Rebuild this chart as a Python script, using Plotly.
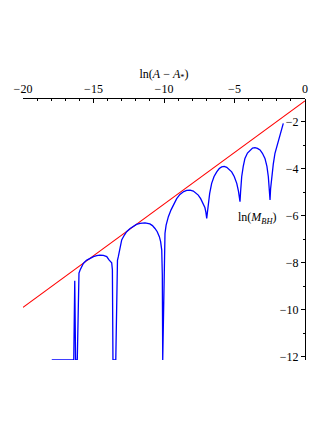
import plotly.graph_objects as go

# red reference line (end points)
line_x = [-20, 0]
line_y = [-9.90, -1.11]

# blue ln(M_BH) curve
mbh_x = [-17.96, -16.40, -16.33, -16.27, -16.15, -16.05, -16.03, -15.95, -15.72, -15.5,
         -15.25, -15.0, -14.77, -14.55, -14.30, -14.06, -13.90, -13.71, -13.66, -13.62,
         -13.42, -13.35, -13.30, -13.24, -13.12, -13.0, -12.82, -12.65, -12.4, -12.18,
         -11.95, -11.70, -11.35, -11.0, -10.82, -10.64, -10.48, -10.33, -10.24, -10.16,
         -10.12, -10.09, -9.99, -9.93, -9.85, -9.69, -9.5, -9.34, -9.1, -8.87,
         -8.6, -8.39, -8.15, -7.92, -7.75, -7.57, -7.4, -7.21, -7.1, -7.03,
         -6.97, -6.92, -6.86, -6.76, -6.62, -6.45, -6.26, -6.08, -5.91, -5.73,
         -5.55, -5.38, -5.20, -5.02, -4.84, -4.72, -4.65, -4.61, -4.57, -4.49,
         -4.38, -4.26, -4.08, -3.90, -3.72, -3.55, -3.37, -3.19, -3.02, -2.84,
         -2.70, -2.60, -2.53, -2.48, -2.44, -2.36, -2.25, -2.13, -1.95, -1.77,
         -1.65, -1.54]
mbh_y = [-12.14, -12.14, -8.77, -12.14, -12.14, -8.6, -8.44, -8.31, -8.03, -7.9,
         -7.81, -7.74, -7.70, -7.68, -7.69, -7.74, -7.88, -8.0, -8.3, -12.14,
         -12.14, -8.17, -7.9, -7.74, -7.35, -7.03, -6.83, -6.68, -6.54, -6.44,
         -6.37, -6.32, -6.30, -6.35, -6.42, -6.54, -6.68, -6.89, -7.1, -7.46,
         -8.5, -12.14, -8.17, -6.75, -6.4, -6.04, -5.75, -5.54, -5.27, -5.09,
         -4.97, -4.92, -4.91, -4.95, -5.02, -5.12, -5.27, -5.47, -5.65, -5.85,
         -6.11, -5.85, -5.47, -5.05, -4.62, -4.33, -4.13, -3.99, -3.92, -3.90,
         -3.94, -4.02, -4.13, -4.33, -4.62, -4.95, -5.2, -5.40, -5.0, -4.34,
         -3.9, -3.56, -3.33, -3.20, -3.12, -3.10, -3.13, -3.20, -3.34, -3.56,
         -3.9, -4.34, -4.85, -5.33, -4.85, -4.34, -3.8, -3.34, -2.92, -2.57,
         -2.3, -2.07]

x_ticks = [-20, -15, -10, -5, 0]
x_labels = ["\u221220", "\u221215", "\u221210", "\u22125", "0"]
y_ticks = [-12, -10, -8, -6, -4, -2]
y_labels = ["\u221212", "\u221210", "\u22128", "\u22126", "\u22124", "\u22122"]

FONT = "Liberation Serif"

fig = go.Figure()
fig.add_trace(go.Scatter(x=line_x, y=line_y, mode="lines",
                         line=dict(color="#ff0000", width=1.2), showlegend=False))
fig.add_trace(go.Scatter(x=mbh_x, y=mbh_y, mode="lines",
                         line=dict(color="#0000ff", width=1.3), showlegend=False))

fig.add_annotation(x=-3.40, y=-6.10, text="ln(<i>M</i><sub><i>BH</i></sub>)",
                   showarrow=False, font=dict(family=FONT, size=12, color="black"))

# page body adds an 8px offset, so margins are shifted to compensate
fig.update_layout(
    width=332, height=430,
    paper_bgcolor="white", plot_bgcolor="white",
    font=dict(family=FONT, size=12, color="black"),
    margin=dict(l=15, r=35, t=91, b=78),
    xaxis=dict(
        range=[-20, 0], side="top", showgrid=False, zeroline=False, automargin=False,
        showline=True, linecolor="black", linewidth=1,
        ticks="inside", ticklen=4, tickcolor="black",
        tickvals=x_ticks, ticktext=x_labels,
        minor=dict(dtick=1, tick0=0, ticks="inside", ticklen=2, tickcolor="black"),
        title=dict(text="ln(<i>A</i> \u2212 <i>A</i><sub>*</sub>)", standoff=0,
                   font=dict(family=FONT, size=12)),
    ),
    yaxis=dict(
        range=[-12.14, -1.03], side="left", anchor="free", position=1,
        showgrid=False, zeroline=False, automargin=False,
        showline=True, linecolor="black", linewidth=1,
        ticks="outside", ticklen=4, tickcolor="black",
        tickvals=y_ticks, ticktext=y_labels,
        minor=dict(dtick=1, tick0=0, ticks="outside", ticklen=2, tickcolor="black"),
    ),
)

fig.write_html("out.html")
